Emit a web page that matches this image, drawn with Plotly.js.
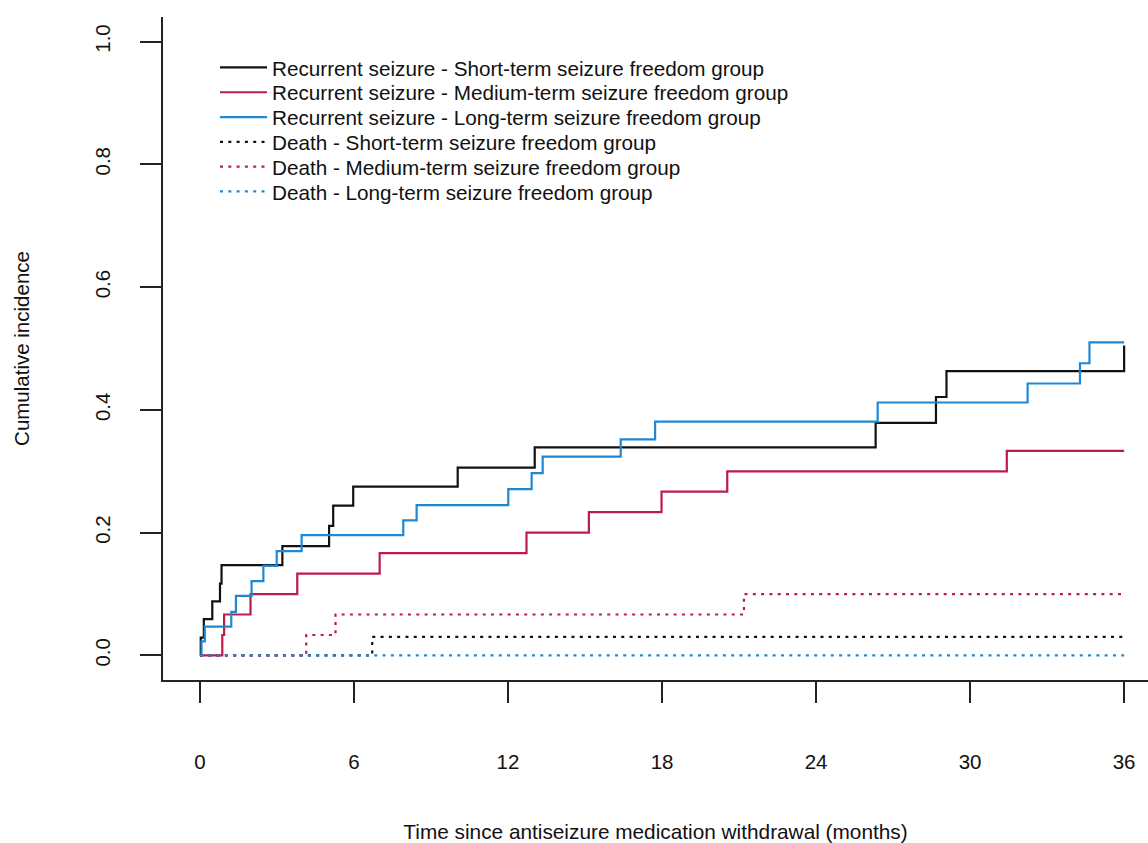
<!DOCTYPE html>
<html>
<head>
<meta charset="utf-8">
<script src="https://cdn.plot.ly/plotly-3.0.1.min.js"></script>
<style>html,body{margin:0;padding:0;background:#fff;}#chart{width:1148px;height:843px;}</style>
</head>
<body>
<div id="chart"></div>
<script>
// Recurrent seizure - Short-term group
var shortRecT = [0, 0.03, 0.15, 0.48, 0.78, 0.84, 3.21, 5.03, 5.19, 5.97, 10.04, 13.04, 26.32, 28.67, 29.08, 36];
var shortRecV = [0, 0.029, 0.059, 0.088, 0.117, 0.147, 0.178, 0.211, 0.244, 0.275, 0.306, 0.339, 0.379, 0.421, 0.463, 0.505];
// Recurrent seizure - Medium-term group
var medRecT = [0, 0.87, 0.94, 1.97, 3.79, 7.0, 12.72, 15.15, 17.98, 20.54, 31.43, 36];
var medRecV = [0, 0.0333, 0.0667, 0.1, 0.1333, 0.1667, 0.2, 0.2333, 0.2667, 0.3, 0.3333, 0.3333];
// Recurrent seizure - Long-term group
var longRecT = [0, 0.06, 0.19, 1.22, 1.40, 2.01, 2.47, 2.99, 3.96, 7.92, 8.44, 12.01, 12.92, 13.35, 16.39, 17.73, 26.4, 32.24, 34.28, 34.65, 36];
var longRecV = [0, 0.023, 0.047, 0.071, 0.097, 0.121, 0.146, 0.170, 0.196, 0.220, 0.245, 0.271, 0.297, 0.324, 0.352, 0.381, 0.412, 0.443, 0.476, 0.510, 0.510];
// Death curves
var shortDeathT = [0, 6.71, 36];
var shortDeathV = [0, 0.0303, 0.0303];
var medDeathT = [0, 4.14, 5.28, 21.19, 36];
var medDeathV = [0, 0.0333, 0.0667, 0.1, 0.1];
var longDeathT = [0, 36];
var longDeathV = [0, 0];

var seriesNames = [
  "Recurrent seizure - Short-term seizure freedom group",
  "Recurrent seizure - Medium-term seizure freedom group",
  "Recurrent seizure - Long-term seizure freedom group",
  "Death - Short-term seizure freedom group",
  "Death - Medium-term seizure freedom group",
  "Death - Long-term seizure freedom group"
];
var xTicks = [0, 6, 12, 18, 24, 30, 36];
var yTicks = [0, 0.2, 0.4, 0.6, 0.8, 1.0];

var cBlack = "#111111", cRed = "#BF1A4C", cBlue = "#2088D2";
var dotDash = "3px,5.3px";
var legendIds = ["legend", "legend2", "legend3", "legend4", "legend5", "legend6"];
var legendRowY = [0.9540, 0.9166, 0.8792, 0.8418, 0.8044, 0.7670];

function stepTrace(x, y, i, color, dash) {
  return {
    type: "scatter", mode: "lines", x: x, y: y, name: seriesNames[i],
    legend: legendIds[i],
    line: {shape: "hv", color: color, width: 2.2, dash: dash},
    hoverinfo: "skip"
  };
}

var data = [
  stepTrace(shortRecT, shortRecV, 0, cBlack, "solid"),
  stepTrace(medRecT, medRecV, 1, cRed, "solid"),
  stepTrace(longRecT, longRecV, 2, cBlue, "solid"),
  stepTrace(shortDeathT, shortDeathV, 3, cBlack, dotDash),
  stepTrace(medDeathT, medDeathV, 4, cRed, dotDash),
  stepTrace(longDeathT, longDeathV, 5, cBlue, dotDash)
];

var fontFam = "Liberation Sans, Arial, sans-serif";
var layout = {
  width: 1148, height: 843,
  margin: {l: 163, r: 0, t: 17, b: 163, pad: 0},
  paper_bgcolor: "#fff", plot_bgcolor: "#fff",
  font: {family: fontFam, size: 20, color: "#111"},
  showlegend: true,
  xaxis: {
    range: [-1.44, 36.93], autorange: false,
    tickmode: "array", tickvals: xTicks, ticktext: xTicks.map(String),
    ticks: "outside", ticklen: 21, tickwidth: 2, tickcolor: "#222",
    showline: true, linecolor: "#222", linewidth: 2,
    showgrid: false, zeroline: false,
    ticklabelstandoff: 41,
    tickfont: {size: 20.5, family: fontFam, color: "#111"},
    title: {text: "Time since antiseizure medication withdrawal (months)", font: {size: 20.8, family: fontFam, color: "#111"}, standoff: 57}
  },
  yaxis: {
    range: [-0.04, 1.04], autorange: false,
    tickmode: "array", tickvals: yTicks, ticktext: yTicks.map(function(v){return v.toFixed(1);}),
    ticks: "outside", ticklen: 21, tickwidth: 2, tickcolor: "#222",
    showline: true, linecolor: "#222", linewidth: 2,
    showgrid: false, zeroline: false,
    tickangle: -90, ticklabelstandoff: 22,
    tickfont: {size: 20.5, family: fontFam, color: "#111"},
    title: {text: "Cumulative incidence", font: {size: 20.5, family: fontFam, color: "#111"}, standoff: 56}
  }
};

legendIds.forEach(function(id, i) {
  layout[id] = {
    x: 0.0528, y: legendRowY[i], xanchor: "left", yanchor: "top",
    bgcolor: "rgba(0,0,0,0)", borderwidth: 0,
    font: {family: fontFam, size: 20.7, color: "#111"},
    itemwidth: 47
  };
});

Plotly.newPlot("chart", data, layout, {displayModeBar: false, staticPlot: true});
</script>
</body>
</html>
